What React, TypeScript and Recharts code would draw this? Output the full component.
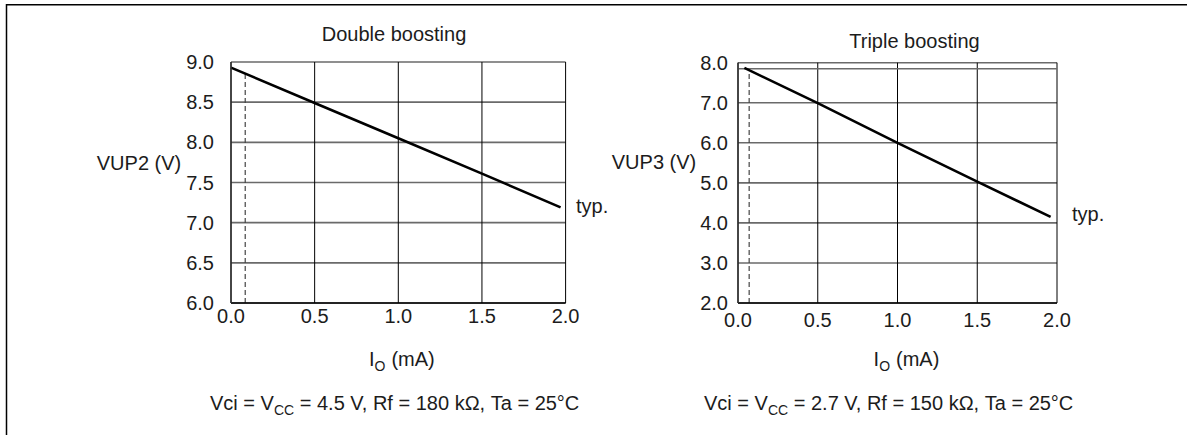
import React from "react";
import {
  LineChart,
  Line,
  XAxis,
  YAxis,
  CartesianGrid,
  ReferenceLine,
} from "recharts";

const currentTicks = [0, 0.5, 1.0, 1.5, 2.0];

const doubleCurrent = [0, 0.5, 1.0, 1.5, 1.97];
const doubleVoltage = [8.93, 8.49, 8.05, 7.61, 7.19];
const doubleTicks = [6.0, 6.5, 7.0, 7.5, 8.0, 8.5, 9.0];
const doubleMarker = { x: 0.085, top: 8.86 };

const tripleCurrent = [0.04, 0.5, 1.0, 1.5, 1.96];
const tripleVoltage = [7.87, 6.99, 6.0, 5.03, 4.15];
const tripleTicks = [2.0, 3.0, 4.0, 5.0, 6.0, 7.0, 8.0];
const tripleMarker = { x: 0.07, top: 7.75 };
const tripleExtraLine = 7.85;

const FONT = "Arial, 'Liberation Sans', Helvetica, sans-serif";
const INK = "#1c1c1c";

const toRows = (xs: number[], ys: number[]) =>
  xs.map((x, i) => ({ io: x, v: ys[i] }));

type PanelProps = {
  left: number;
  width: number;
  plotRight: number;
  data: { io: number; v: number }[];
  yTicks: number[];
  marker: { x: number; top: number };
  yAxisWidth: number;
  yTickGap: number;
  xTickGap: number;
  top: number;
  extraLine?: number;
};

const Panel = ({
  left,
  width,
  plotRight,
  data,
  yTicks,
  marker,
  yAxisWidth,
  yTickGap,
  xTickGap,
  top,
  extraLine,
}: PanelProps) => {
  const tickStyle = { fill: INK, fontSize: 20, fontFamily: FONT };
  return (
    <div style={{ position: "absolute", left, top: 0 }}>
      <LineChart
        width={width}
        height={435}
        data={data}
        margin={{ top, right: width - plotRight, bottom: 102, left: 0 }}
      >
        <CartesianGrid
          vertical={false}
          stroke="#6a6a6a"
          strokeWidth={1.6}
          horizontalValues={yTicks}
        />
        <CartesianGrid
          horizontal={false}
          stroke="#000"
          strokeWidth={1}
          verticalValues={currentTicks}
        />
        <XAxis
          dataKey="io"
          type="number"
          domain={[0, 2]}
          ticks={currentTicks}
          interval={0}
          height={30}
          tickLine={false}
          tickSize={0}
          tickMargin={xTickGap}
          axisLine={{ stroke: "#000", strokeWidth: 1.5 }}
          tick={tickStyle}
          tickFormatter={(v: number) => v.toFixed(1)}
        />
        <YAxis
          type="number"
          domain={[yTicks[0], yTicks[yTicks.length - 1]]}
          ticks={yTicks}
          interval={0}
          width={yAxisWidth}
          tickLine={false}
          tickSize={0}
          tickMargin={yTickGap}
          axisLine={{ stroke: "#333", strokeWidth: 1.5 }}
          tick={tickStyle}
          tickFormatter={(v: number) => v.toFixed(1)}
        />
        {extraLine !== undefined && (
          <ReferenceLine y={extraLine} stroke="#6a6a6a" strokeWidth={1.6} />
        )}
        <ReferenceLine
          segment={[
            { x: marker.x, y: yTicks[0] },
            { x: marker.x, y: marker.top },
          ]}
          stroke="#444"
          strokeWidth={1.2}
          strokeDasharray="5 3"
        />
        <Line
          type="linear"
          dataKey="v"
          stroke="#000"
          strokeWidth={2.6}
          dot={false}
          isAnimationActive={false}
        />
      </LineChart>
    </div>
  );
};

const App = () => {
  return (
    <div
      style={{
        position: "absolute",
        left: 0,
        top: 0,
        width: 1187,
        height: 435,
        background: "#fff",
        fontFamily: FONT,
      }}
    >
      <Panel
        left={0}
        width={600}
        plotRight={565.6}
        data={toRows(doubleCurrent, doubleVoltage)}
        yTicks={doubleTicks}
        marker={doubleMarker}
        yAxisWidth={231}
        yTickGap={17}
        xTickGap={6}
        top={62}
      />
      <Panel
        left={600}
        width={587}
        plotRight={457}
        data={toRows(tripleCurrent, tripleVoltage)}
        yTicks={tripleTicks}
        marker={tripleMarker}
        yAxisWidth={138}
        yTickGap={10}
        xTickGap={10}
        top={62.7}
        extraLine={tripleExtraLine}
      />
      <svg
        width={1187}
        height={435}
        style={{ position: "absolute", left: 0, top: 0, pointerEvents: "none" }}
        fontFamily={FONT}
        fill={INK}
        fontSize={20}
      >
        <path d="M6.5 435 V4.7 H1187" fill="none" stroke="#000" strokeWidth={1.5} />

        <text x={394} y={40.7} textAnchor="middle">Double boosting</text>
        <text x={914.5} y={48} textAnchor="middle">Triple boosting</text>

        <text x={139} y={170} textAnchor="middle">VUP2 (V)</text>
        <text x={654} y={168.5} textAnchor="middle">VUP3 (V)</text>

        <text x={576} y={213}>typ.</text>
        <text x={1072} y={221}>typ.</text>

        <text x={369} y={366}>
          I<tspan dy={5} fontSize={14}>O</tspan>
          <tspan dy={-5} dx={6}>(mA)</tspan>
        </text>
        <text x={873.6} y={366}>
          I<tspan dy={5} fontSize={14}>O</tspan>
          <tspan dy={-5} dx={6}>(mA)</tspan>
        </text>

        <text x={210} y={410}>
          {"Vci = V"}
          <tspan dy={5} fontSize={14}>CC</tspan>
          <tspan dy={-5}>{" = 4.5 V, Rf = 180 k\u03A9, Ta = 25\u00B0C"}</tspan>
        </text>
        <text x={704} y={409.5}>
          {"Vci = V"}
          <tspan dy={5} fontSize={14}>CC</tspan>
          <tspan dy={-5}>{" = 2.7 V, Rf = 150 k\u03A9, Ta = 25\u00B0C"}</tspan>
        </text>
      </svg>
    </div>
  );
};

export default App;
